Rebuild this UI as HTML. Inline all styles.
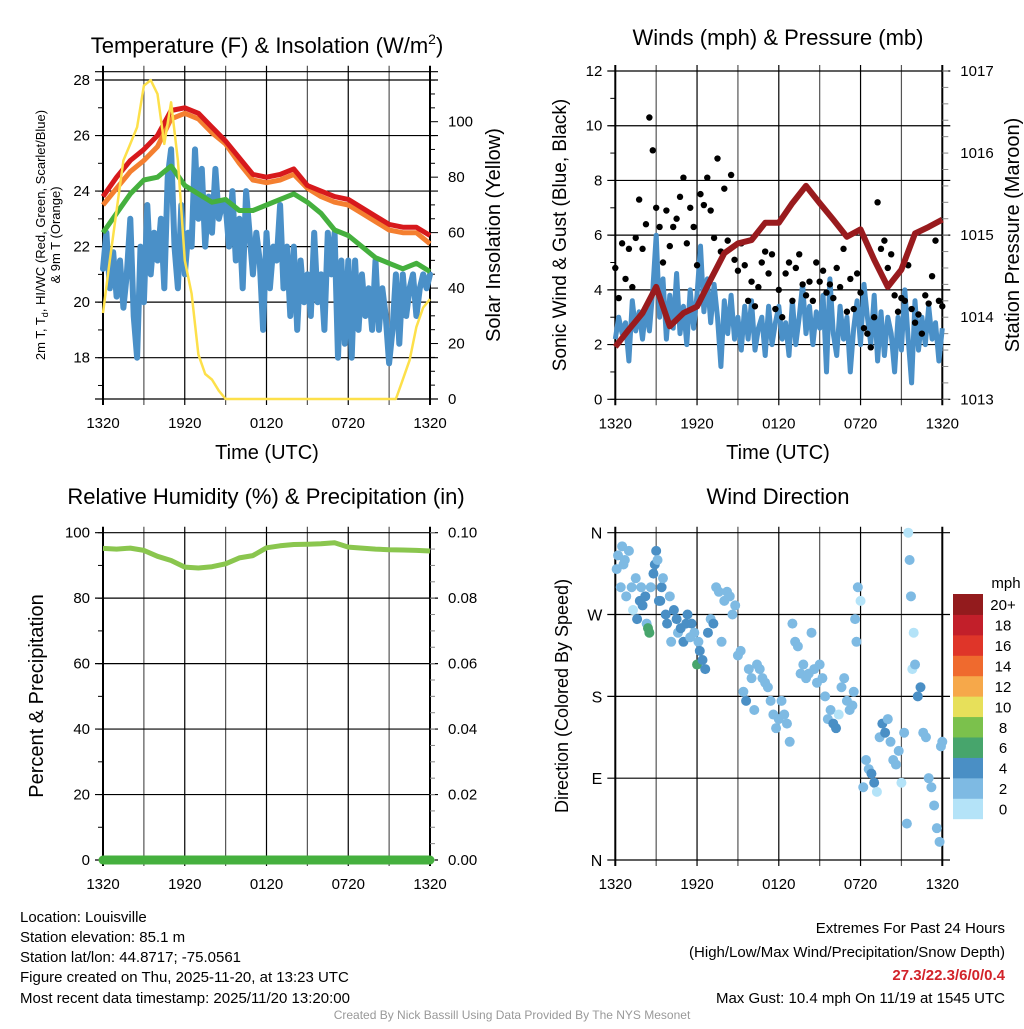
<!DOCTYPE html>
<html><head><meta charset="utf-8"><style>
body{margin:0;background:#fff;}
svg text{font-family:"Liberation Sans",sans-serif;}
</style></head><body>
<svg id="s" width="1024" height="1024" viewBox="0 0 1024 1024" xmlns="http://www.w3.org/2000/svg">
<rect width="1024" height="1024" fill="#fff"/>
<text x="267" y="53" font-size="22" text-anchor="middle">Temperature (F) &amp; Insolation (W/m<tspan dy="-9" font-size="14">2</tspan><tspan dy="9">)</tspan></text>
<text x="778" y="45" font-size="22" text-anchor="middle">Winds (mph) &amp; Pressure (mb)</text>
<text x="266" y="504" font-size="22" text-anchor="middle">Relative Humidity (%) &amp; Precipitation (in)</text>
<text x="778" y="504" font-size="22" text-anchor="middle">Wind Direction</text>

<text transform="translate(45,235) rotate(-90)" font-size="13" text-anchor="middle">2m T, T<tspan font-size="9" dy="3">d</tspan><tspan dy="-3">, HI/WC (Red, Green, Scarlet/Blue)</tspan></text>
<text transform="translate(60,235) rotate(-90)" font-size="13" text-anchor="middle">&amp; 9m T (Orange)</text>
<text transform="translate(500,235) rotate(-90)" font-size="20" text-anchor="middle">Solar Insolation (Yellow)</text>
<text x="267" y="459" font-size="20" text-anchor="middle">Time (UTC)</text>
<text transform="translate(566,235) rotate(-90)" font-size="19" text-anchor="middle">Sonic Wind &amp; Gust (Blue, Black)</text>
<text transform="translate(1019,235) rotate(-90)" font-size="20" text-anchor="middle">Station Pressure (Maroon)</text>
<text x="778" y="459" font-size="20" text-anchor="middle">Time (UTC)</text>
<text transform="translate(43,696) rotate(-90)" font-size="20" text-anchor="middle">Percent &amp; Precipitation</text>
<text transform="translate(568,696) rotate(-90)" font-size="18" text-anchor="middle">Direction (Colored By Speed)</text>

<g id="g1"></g><g id="g2"></g><g id="g3"></g><g id="g4"></g>

<g font-size="15">
<text x="20" y="922">Location: Louisville</text>
<text x="20" y="942">Station elevation: 85.1 m</text>
<text x="20" y="962">Station lat/lon: 44.8717; -75.0561</text>
<text x="20" y="982">Figure created on Thu, 2025-11-20, at 13:23 UTC</text>
<text x="20" y="1003">Most recent data timestamp: 2025/11/20 13:20:00</text>
</g>
<g font-size="15" text-anchor="end">
<text x="1005" y="933">Extremes For Past 24 Hours</text>
<text x="1005" y="957">(High/Low/Max Wind/Precipitation/Snow Depth)</text>
<text x="1005" y="980" fill="#d2232a" font-weight="bold">27.3/22.3/6/0/0.4</text>
<text x="1005" y="1003">Max Gust: 10.4 mph On 11/19 at 1545 UTC</text>
</g>
<text x="512" y="1019" font-size="12" fill="#999" text-anchor="middle">Created By Nick Bassill Using Data Provided By The NYS Mesonet</text>
</svg>
<script>
// ---- data ----
const timeLabels=["1320","1920","0120","0720","1320"];
const tempRed=[23.8,24.5,25.1,25.5,26.0,26.9,27.0,26.8,26.3,25.8,25.2,24.6,24.5,24.6,24.8,24.2,24.0,23.8,23.7,23.4,23.1,22.8,22.7,22.7,22.4];
const tempOrange=[23.5,24.1,24.7,25.1,25.6,26.6,26.8,26.6,26.1,25.7,25.0,24.4,24.3,24.4,24.6,24.1,23.8,23.6,23.5,23.2,22.9,22.6,22.5,22.5,22.1];
const tempGreen=[22.5,23.2,23.9,24.4,24.5,24.9,24.2,23.9,23.6,23.7,23.3,23.3,23.5,23.7,23.9,23.6,23.2,22.6,22.4,22.0,21.6,21.4,21.2,21.4,21.1];
const dewBlue=[21.2,22.5,20.5,21.8,20.2,21.5,19.8,21.0,23.0,19.5,18.0,22.0,20.0,23.5,21.0,22.5,21.5,23.0,20.5,24.5,25.5,22.0,20.5,23.5,21.0,22.5,22.0,25.5,23.0,24.8,22.0,23.8,22.5,24.8,23.0,23.5,23.5,22.0,24.0,21.5,23.0,20.5,24.0,22.5,21.0,22.5,21.5,19.0,22.5,20.5,22.0,21.5,23.5,20.5,22.0,19.5,22.0,19.0,21.5,20.0,21.0,19.5,22.5,20.0,21.0,19.0,22.5,21.0,22.5,18.0,21.5,18.5,21.5,18.0,21.5,19.0,21.0,19.5,20.5,19.0,21.5,19.0,20.5,19.5,17.8,19.0,21.0,18.5,21.0,19.5,20.5,21.0,19.5,20.5,21.0,20.5,21.0];
const insolation=[31,50,68,86,92,98,113,115,110,92,107,86,50,38,16,9,7,3,0,0,0,0,0,0,0,0,0,0,0,0,0,0,0,0,0,0,0,0,0,0,0,0,0,0,7,14,26,33,36];
const windSpeed=[2.2,3.0,2.4,2.8,1.4,3.6,2.5,3.2,2.2,3.4,2.5,4.0,6.0,3.0,4.4,2.2,3.8,2.6,4.6,2.4,3.4,2.0,4.0,2.6,3.8,5.6,3.2,4.4,2.8,4.2,3.0,1.2,3.6,2.4,3.8,2.2,3.0,1.8,3.4,2.2,3.6,1.8,2.6,3.0,1.6,3.4,2.0,2.8,3.4,2.2,2.8,1.6,3.6,2.0,3.0,4.2,2.4,3.4,2.0,3.2,2.6,3.8,1.0,4.4,2.4,1.6,3.4,2.2,3.0,1.0,2.6,3.6,2.0,4.2,3.0,2.0,3.8,1.4,3.2,1.6,3.0,2.4,1.0,3.0,1.8,4.0,2.2,0.6,3.6,1.8,3.0,2.0,3.4,2.2,2.8,1.4,2.6];
const windGust=[4.8,3.7,5.7,4.4,5.5,4.1,5.9,7.3,5.5,6.4,10.3,9.1,7.0,6.3,5.0,6.9,5.6,6.3,6.6,7.4,8.1,5.7,7.0,6.3,4.9,7.5,7.1,8.1,6.9,5.9,8.8,5.4,7.7,5.8,8.2,5.1,4.7,5.7,4.9,3.6,4.3,3.4,4.1,5.0,5.4,4.6,5.3,3.3,4.0,3.0,4.6,5.0,3.6,4.8,5.3,4.2,3.8,4.3,3.6,5.0,4.3,4.7,3.9,4.2,3.7,4.8,4.1,5.5,3.2,4.4,3.3,4.6,3.9,2.6,2.4,1.9,3.0,7.2,5.5,5.8,4.8,5.3,3.8,3.2,3.7,3.6,4.9,3.3,2.8,3.1,2.4,3.8,3.5,4.5,5.8,3.6,3.4];
const pressure=[1013.64,1013.85,1014.05,1014.37,1013.89,1014.05,1014.13,1014.46,1014.78,1014.9,1014.94,1015.15,1015.15,1015.39,1015.6,1015.39,1015.19,1014.98,1015.07,1014.7,1014.37,1014.58,1015.02,1015.1,1015.19];
const rhValues=[95.2,95.0,95.3,94.6,92.8,91.5,89.5,89.2,89.6,90.5,92.3,93.0,95.4,96.0,96.4,96.5,96.6,96.9,95.6,95.3,95.0,94.8,94.7,94.6,94.4];
const precip=[0,0,0,0,0,0,0,0,0,0,0,0,0,0,0,0,0,0,0,0,0,0,0,0,0];
const dirTime=[0.1,0.2,0.4,0.5,0.7,0.8,1.0,1.2,1.3,1.5, 1.6,1.8,1.9,2.0,2.2,2.3,2.4,2.5,2.6,2.8, 2.9,3.0,3.1,3.2,3.4,3.5,3.7,3.8,4.0,4.1,
 4.3,4.5,4.6,4.8,5.0,5.2,5.3,5.5,5.6,5.8, 6.0,6.1,6.2,6.4,6.6,6.8,7.0,7.2,7.4,7.6, 7.8,8.0,8.2,8.4,8.6,8.8,9.0,9.2,9.4,9.6,
 9.8,10.0,10.2,10.4,10.6,10.8,11.0,11.2,11.4,11.6, 11.8,12.0,12.2,12.4,12.6,12.8,13.0,13.2,13.4,13.6, 13.8,14.0,14.2,14.4,14.6,14.8,15.0,15.2,15.4,15.6,
 15.8,16.0,16.2,16.4,16.6,16.8,17.0,17.2,17.4,17.5, 17.6,17.7,17.8,18.0,18.2,18.4,18.6,18.8,19.0,19.2, 19.4,19.6,19.8,20.0,20.2,20.4,20.6,20.8,21.0,21.2,
 21.4,21.5,21.6,21.7,21.8,21.9,22.0,22.2,22.4,22.6, 22.8,23.0,23.2,23.4,23.6,23.8,23.9,24.0,0.6,3.3];
const dirDeg=[320,335,300,345,330,290,340,300,275,310, 265,285,300,280,290,260,255,250,300,315, 325,340,330,285,300,310,270,260,290,240,
 275,265,250,255,240,260,270,245,260,250, 215,240,230,220,210,250,265,260,300,295, 240,285,295,290,270,280,225,230,185,175,
 210,200,165,215,210,200,195,190,175,160, 145,155,175,160,150,130,260,240,235,205, 215,200,205,250,210,195,215,200,180,155,
 165,150,145,160,190,200,175,165,170,185, 265,240,300,285,80,110,100,95,85,75, 135,150,140,155,130,110,105,120,85,140,
 40,360,330,290,210,250,215,180,190,140, 135,90,80,60,35,20,125,130,325,285];
const dirSpeed=[2,2,2,2,2,2,2,2,0,2, 4,4,2,4,4,2,6,6,2,4, 4,4,2,4,4,2,4,4,2,2,
 4,4,2,4,4,4,4,2,4,2, 6,2,4,4,4,4,2,4,2,2, 2,2,2,2,2,2,2,2,2,4,
 2,2,2,2,2,2,2,2,2,2, 2,2,2,2,2,2,2,2,2,2, 2,2,2,2,2,2,2,2,2,2,
 2,4,4,0,2,2,2,2,2,2, 2,2,2,0,2,2,2,4,4,0, 2,4,4,2,2,2,2,2,0,2,
 2,0,2,2,0,0,2,4,4,2, 2,2,2,2,2,2,2,2,2,4];
const colorBins=["0","2","4","6","8","10","12","14","16","18","20+"];
const binColors=["#b4e3f8","#7ebae3","#4a8fc5","#47a56c","#7bc14c","#e7e05a","#f6a84a","#ef6a2e","#df3529","#c21f2a","#931b1d"];

// ---- helpers ----
const NS="http://www.w3.org/2000/svg";
function mk(parent,tag,attrs){const e=document.createElementNS(NS,tag);for(const k in attrs)e.setAttribute(k,attrs[k]);parent.appendChild(e);return e;}
function txt(parent,x,y,s,size,anchor){const t=mk(parent,'text',{x:x,y:y,'font-size':size,'text-anchor':anchor});t.textContent=s;return t;}
function xScale(x0,x1){return h=>x0+(x1-x0)*h/24;}
function yScale(v0,v1,p0,p1){return v=>p0+(v-v0)*(p1-p0)/(v1-v0);}
function linePath(vals,xs,ys,dt){return vals.map((v,i)=>(i?'L':'M')+xs(i*dt).toFixed(1)+','+ys(v).toFixed(1)).join('');}

function frame(g,x0,x1,yT,yB,hLines,opts){
  const xs=xScale(x0,x1);
  for(let h=0;h<=24;h+=3){
    const l=mk(g,'line',{x1:xs(h),x2:xs(h),y1:yT-6,y2:yB+6,stroke:(h%6==0)?'#000':'#555','stroke-width':(h==0||h==24)?2:1.2});
    
    
  }
  hLines.forEach(y=>{
    const l=mk(g,'line',{x1:x0-8,x2:opts.hx2||x1+8,y1:y,y2:y,stroke:'#000','stroke-width':1.2});
    
    
  });
  timeLabels.forEach((s,i)=>{
    const t=txt(g,xs(i*6),yB+29,s,15,'middle');
    
    
  });
}

// ---- panel 1 ----
(function(){
  const g=document.getElementById('g1');
  const x0=103,x1=430,xs=xScale(x0,x1);
  const yt=yScale(18,28,357.7,80.0);
  const yi=yScale(0,100,399,121.7);
  const lines=[71.7,399];
  [18,20,22,24,26,28].forEach(v=>lines.push(yt(v)));
  frame(g,x0,x1,71.7,399,lines,{});
  for(let v=17;v<=28;v+=1){mk(g,'line',{x1:x0-5,x2:x0,y1:yt(v),y2:yt(v),stroke:'#000'});}
  for(let v=0;v<=115;v+=5){mk(g,'line',{x1:x1,x2:x1+(v%20==0?8:5),y1:yi(v),y2:yi(v),stroke:'#000'});}
  [18,20,22,24,26,28].forEach(v=>{const t=txt(g,x0-13,yt(v)+5,String(v),15,'end');});
  [0,20,40,60,80,100].forEach(v=>{const t=txt(g,x1+18,yi(v)+5,String(v),15,'start');});
  const pd=mk(g,'path',{d:linePath(dewBlue,xs,yt,0.25),fill:'none',stroke:'#4a90c8','stroke-width':6,'stroke-linejoin':'round','stroke-linecap':'round'});
  
  const pg=mk(g,'path',{d:linePath(tempGreen,xs,yt,1),fill:'none',stroke:'#45b03e','stroke-width':5,'stroke-linejoin':'round'});
  
  const po=mk(g,'path',{d:linePath(tempOrange,xs,yt,1),fill:'none',stroke:'#f47f30','stroke-width':5,'stroke-linejoin':'round'});
  
  const pr=mk(g,'path',{d:linePath(tempRed,xs,yt,1),fill:'none',stroke:'#d7191c','stroke-width':5,'stroke-linejoin':'round'});
  
  const py=mk(g,'path',{d:linePath(insolation,xs,yi,0.5),fill:'none',stroke:'#fde04a','stroke-width':2.5,'stroke-linejoin':'round'});
  
})();

// ---- panel 2 ----
(function(){
  const g=document.getElementById('g2');
  const x0=615.3,x1=942.3,xs=xScale(x0,x1);
  const yw=yScale(0,12,399.3,71);
  const yp=yScale(1013,1017,399.3,71);
  const lines=[];[0,2,4,6,8,10,12].forEach(v=>lines.push(yw(v)));
  frame(g,x0,x1,71,399.3,lines,{});
  for(let v=0;v<=12;v+=1){mk(g,'line',{x1:x0-5,x2:x0,y1:yw(v),y2:yw(v),stroke:'#000'});}
  for(let v=1013;v<=1017.001;v+=0.2){mk(g,'line',{x1:x1,x2:x1+6,y1:yp(v),y2:yp(v),stroke:'#888'});}
  [0,2,4,6,8,10,12].forEach(v=>{const t=txt(g,x0-13,yw(v)+5,String(v),15,'end');});
  [1013,1014,1015,1016,1017].forEach(v=>{const t=txt(g,x1+18,yp(v)+5,String(v),15,'start');});
  const pw=mk(g,'path',{d:linePath(windSpeed,xs,yw,0.25),fill:'none',stroke:'#4a90c8','stroke-width':5,'stroke-linejoin':'round'});
  
  windGust.forEach((v,i)=>{
    const c=mk(g,'circle',{cx:xs(i*0.25),cy:yw(v),r:3.2,fill:'#000'});
    
    
  });
  const pp=mk(g,'path',{d:linePath(pressure,xs,yp,1),fill:'none',stroke:'#991b1e','stroke-width':6,'stroke-linejoin':'round'});
  
})();

// ---- panel 3 ----
(function(){
  const g=document.getElementById('g3');
  const x0=103,x1=430,xs=xScale(x0,x1);
  const yr=yScale(0,100,860,532.7);
  const yq=yScale(0,0.1,860,532.7);
  const lines=[];[0,20,40,60,80,100].forEach(v=>lines.push(yr(v)));
  frame(g,x0,x1,532.7,860,lines,{});
  for(let v=0;v<=100;v+=10){mk(g,'line',{x1:x0-5,x2:x0,y1:yr(v),y2:yr(v),stroke:'#000'});}
  for(let v=0;v<=100;v+=5){mk(g,'line',{x1:x1,x2:x1+5,y1:yr(v),y2:yr(v),stroke:'#888'});}
  [0,20,40,60,80,100].forEach(v=>{const t=txt(g,x0-13,yr(v)+5,String(v),15,'end');});
  ["0.00","0.02","0.04","0.06","0.08","0.10"].forEach((s,i)=>{const t=txt(g,x1+18,yq(i*0.02)+5,s,15,'start');});
  const ph=mk(g,'path',{d:linePath(rhValues,xs,yr,1),fill:'none',stroke:'#8ac64e','stroke-width':5,'stroke-linejoin':'round'});
  
  const pq=mk(g,'path',{d:linePath(precip,xs,yq,1),fill:'none',stroke:'#45b03e','stroke-width':9,'stroke-linecap':'round'});
  
})();

// ---- panel 4 ----
(function(){
  const g=document.getElementById('g4');
  const x0=615.3,x1=942.3,xs=xScale(x0,x1);
  const yd=yScale(0,360,860,532.7);
  const lines=[];[0,90,180,270,360].forEach(v=>lines.push(yd(v)));
  frame(g,x0,x1,532.7,860,lines,{hx2:950});
  ["N","E","S","W","N"].forEach((s,i)=>{const t=txt(g,x0-13,yd(i*90)+6,s,16,'end');});
  const n=Math.min(dirTime.length,dirDeg.length,dirSpeed.length);
  for(let i=0;i<n;i++){
    const b=Math.min(10,Math.round(dirSpeed[i]/2));
    const c=mk(g,'circle',{cx:xs(dirTime[i]),cy:yd(dirDeg[i]),r:5,fill:binColors[b]});
    
    
  }
  const segH=(818.7-594)/11;
  colorBins.forEach((s,i)=>{
    const y=818.7-(i+1)*segH;
    const r=mk(g,'rect',{x:953,y:y,width:30,height:segH+0.5,fill:binColors[i]});
    
    
    const t=txt(g,1003,y+segH/2+6,s,15,'middle');
    
    
  });
  const u=txt(g,1006,588,'mph',15,'middle');
  
  
})();
</script>
</body></html>
